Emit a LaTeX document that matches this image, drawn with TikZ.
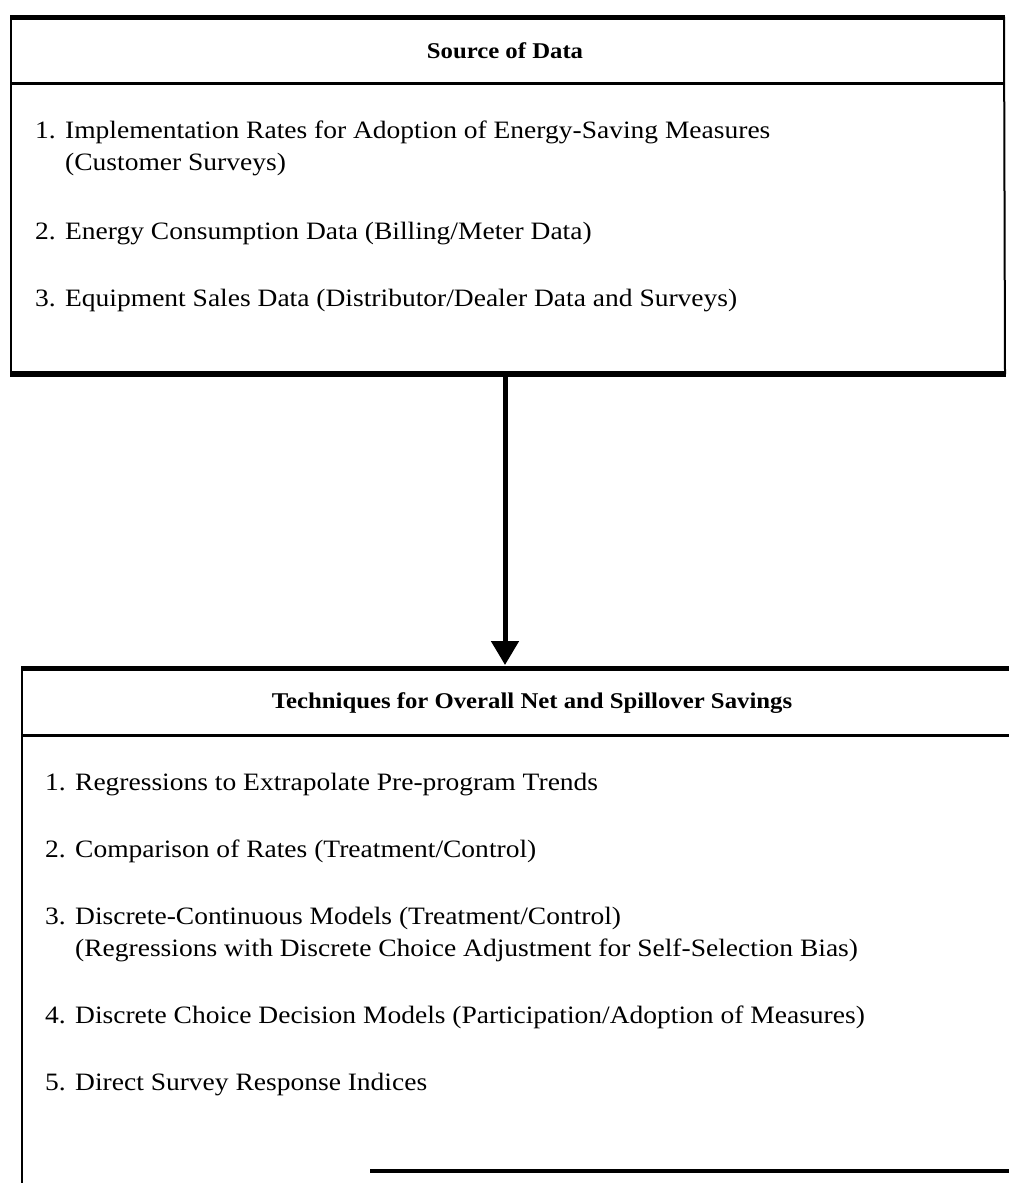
\documentclass[tikz,border=0pt]{standalone}
\usepackage{fontspec}
\setmainfont{Liberation Serif}[FakeStretch=1.1]
\usetikzlibrary{arrows.meta}
\begin{document}
\begin{tikzpicture}[x=1pt,y=-1pt,
  itemtext/.style={anchor=base west, inner sep=0pt, font=\fontsize{25}{32}\selectfont},
  headtext/.style={inner sep=0pt, font=\bfseries\fontsize{22.5}{24}\selectfont},
  heavyrule/.style={line width=5pt},
  midrule/.style={line width=3pt},
  siderule/.style={line width=2pt},
  flowarrow/.style={line width=5pt, -{Triangle[length=24pt,width=27pt]}}]
\useasboundingbox (0,0) rectangle (1009,1183);
\fill[white] (0,0) rectangle (1009,1183);
\newcommand{\num}[1]{\makebox[30pt][l]{#1}}
% ---- box 1: Source of Data
\coordinate (b1tl) at (11,17);
\coordinate (b1tr) at (1004,17);
\coordinate (b1ml) at (11,83);
\coordinate (b1mr) at (1004,83);
\coordinate (b1bl) at (11,374);
\coordinate (b1br) at (1005,374);
\draw[siderule] (b1tl) -- (b1bl);
\draw[siderule] (b1tr) -- (b1br);
\draw[heavyrule] ([xshift=-1pt]b1tl) -- ([xshift=1pt]b1tr);
\draw[midrule] (b1ml) -- (b1mr);
\draw[line width=6pt] ([xshift=-1pt]b1bl) -- ([xshift=1pt]b1br);
\node[headtext] (srchead) at (505,51) {Source of Data};
\node[itemtext] (s1) at (35,138) {\begin{tabular}[t]{@{}l@{}}\num{1.}Implementation Rates for Adoption of Energy-Saving Measures\\\hspace*{30pt}(Customer Surveys)\end{tabular}};
\node[itemtext] (s2) at (35,239) {\num{2.}Energy Consumption Data (Billing/Meter Data)};
\node[itemtext] (s3) at (35,306) {\num{3.}Equipment Sales Data (Distributor/Dealer Data and Surveys)};
% ---- box 2: Techniques
\coordinate (b2tl) at (22,668);
\coordinate (b2tr) at (1009,668);
\coordinate (b2ml) at (22,735);
\coordinate (b2mr) at (1009,735);
\coordinate (b2bl) at (22,1183);
\coordinate (b2bs) at (370,1171);
\coordinate (b2br) at (1009,1171);
\draw[siderule] (b2tl) -- (b2bl);
\draw[heavyrule] ([xshift=-1pt]b2tl) -- (b2tr);
\draw[midrule] (b2ml) -- (b2mr);
\draw[line width=3.5pt] (b2bs) -- (b2br);
\node[headtext] (techhead) at (532,703) {Techniques for Overall Net and Spillover Savings};
\node[itemtext] (t1) at (45,790) {\num{1.}Regressions to Extrapolate Pre-program Trends};
\node[itemtext] (t2) at (45,857) {\num{2.}Comparison of Rates (Treatment/Control)};
\node[itemtext] (t3) at (45,924) {\begin{tabular}[t]{@{}l@{}}\num{3.}Discrete-Continuous Models (Treatment/Control)\\\hspace*{30pt}(Regressions with Discrete Choice Adjustment for Self-Selection Bias)\end{tabular}};
\node[itemtext] (t4) at (45,1023) {\num{4.}Discrete Choice Decision Models (Participation/Adoption of Measures)};
\node[itemtext] (t5) at (45,1090) {\num{5.}Direct Survey Response Indices};
% ---- connector
\coordinate (srcout) at (505,377);
\coordinate (techin) at (505,665);
\draw[flowarrow] (srcout) -- (techin);
\end{tikzpicture}
\end{document}
